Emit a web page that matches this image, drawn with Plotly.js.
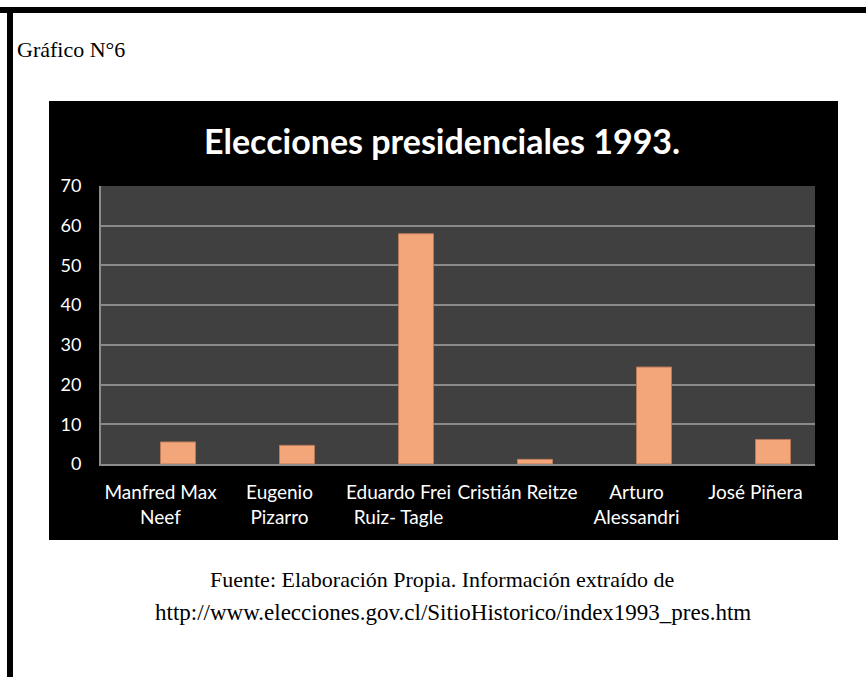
<!DOCTYPE html>
<html>
<head>
<meta charset="utf-8">
<script src="https://cdn.plot.ly/plotly-3.0.1.min.js"></script>
<style>html,body{margin:0;padding:0;background:#fff;}#chart{width:866px;height:677px;}</style>
</head>
<body>
<div id="chart"></div>
<script>
// Data
const candidates = ["Manfred Max<br>Neef", "Eugenio<br>Pizarro", "Eduardo Frei<br>Ruiz- Tagle", "Cristián Reitze", "Arturo<br>Alessandri", "José Piñera"];
const votePercent = [5.55, 4.69, 57.98, 1.17, 24.41, 6.18];
const yTicks = [0, 10, 20, 30, 40, 50, 60, 70];

const W = 866, H = 677;
const L = 101, R = 815, T = 186, B = 464;
const X = px => (px - L) / (R - L);
const Y = py => (B - py) / (B - T);

const trace = {
  type: 'bar',
  x: candidates,
  y: votePercent,
  marker: {color: '#F4A67B', line: {color: '#B97B58', width: 1}},
  width: 0.294,
  offset: 0,
  hoverinfo: 'x+y'
};

const layout = {
  width: W, height: H,
  margin: {l: L, r: W - R, t: T, b: H - B, pad: 0},
  paper_bgcolor: '#ffffff',
  plot_bgcolor: 'rgba(0,0,0,0)',
  showlegend: false,
  font: {family: 'Lato, "Open Sans", sans-serif', color: '#ffffff', size: 18},
  xaxis: {
    type: 'category',
    showgrid: false,
    showline: true, linecolor: '#8c8c8c', linewidth: 2,
    ticks: '', ticklabelstandoff: 10,
    tickfont: {family: 'Lato, sans-serif', size: 19, color: '#ffffff'},
    fixedrange: true
  },
  yaxis: {
    range: [0, 70],
    tickvals: yTicks,
    ticktext: yTicks.map(String),
    showgrid: true, gridcolor: '#8a8a8a', gridwidth: 2,
    showline: true, linecolor: '#8c8c8c', linewidth: 2,
    zeroline: false,
    ticks: '', ticklabelstandoff: 14,
    tickfont: {family: 'Lato, sans-serif', size: 18, color: '#ffffff'},
    fixedrange: true
  },
  shapes: [
    {type: 'rect', xref: 'paper', yref: 'paper', x0: X(0), x1: X(W), y0: Y(7), y1: Y(13), fillcolor: '#000', line: {width: 0}, layer: 'below'},
    {type: 'rect', xref: 'paper', yref: 'paper', x0: X(7), x1: X(13), y0: Y(7), y1: Y(H), fillcolor: '#000', line: {width: 0}, layer: 'below'},
    {type: 'rect', xref: 'paper', yref: 'paper', x0: X(49), x1: X(838), y0: Y(101), y1: Y(540), fillcolor: '#000', line: {width: 0}, layer: 'below'},
    {type: 'rect', xref: 'paper', yref: 'paper', x0: 0, x1: 1, y0: 0, y1: 1, fillcolor: '#404040', line: {width: 0}, layer: 'below'}
  ],
  annotations: [
    {text: 'Gráfico N°6', xref: 'paper', yref: 'paper', x: X(15), y: Y(50), xanchor: 'left', yanchor: 'middle', showarrow: false,
     font: {family: '"Liberation Serif", serif', size: 22, color: '#000'}},
    {text: '<b>Elecciones presidenciales 1993.</b>', xref: 'paper', yref: 'paper', x: X(442), y: Y(141), xanchor: 'center', yanchor: 'middle', showarrow: false,
     font: {family: 'Lato, sans-serif', size: 34, color: '#fff'}},
    {text: 'Fuente: Elaboración Propia. Información extraído de', xref: 'paper', yref: 'paper', x: X(442), y: Y(579), xanchor: 'center', yanchor: 'middle', showarrow: false,
     font: {family: '"Liberation Serif", serif', size: 22, color: '#000'}},
    {text: 'http://www.elecciones.gov.cl/SitioHistorico/index1993_pres.htm', xref: 'paper', yref: 'paper', x: X(453), y: Y(612), xanchor: 'center', yanchor: 'middle', showarrow: false,
     font: {family: '"Liberation Serif", serif', size: 23, color: '#000'}}
  ]
};

Plotly.newPlot('chart', [trace], layout, {displayModeBar: false, staticPlot: true});
</script>
</body>
</html>
